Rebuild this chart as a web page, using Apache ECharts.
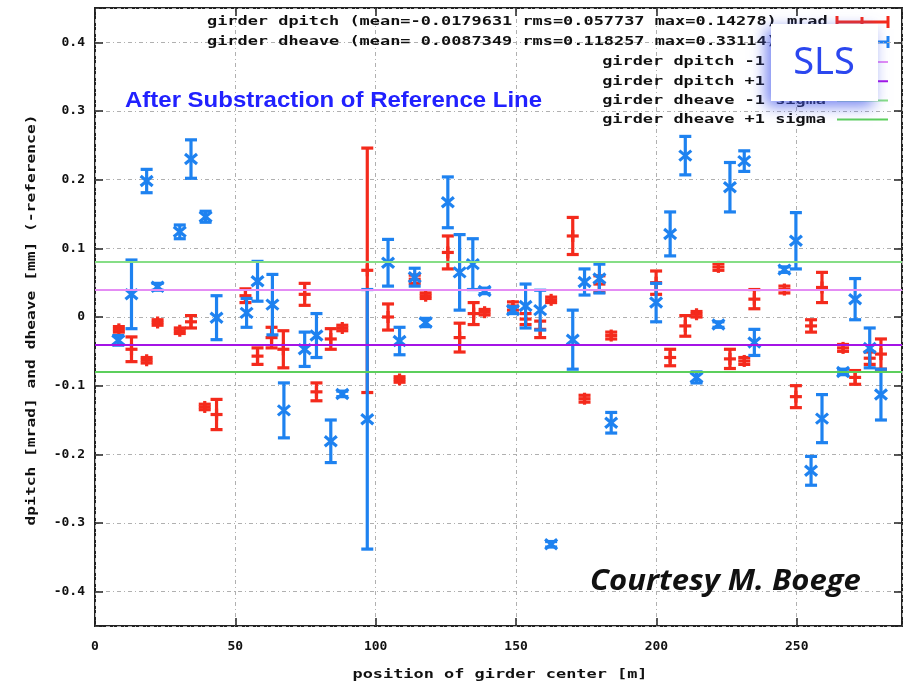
<!DOCTYPE html>
<html>
<head>
<meta charset="utf-8">
<script src="https://cdn.jsdelivr.net/npm/echarts@6/dist/echarts.min.js"></script>
<style>
html,body{margin:0;padding:0;background:#fff;}
#main{width:908px;height:687px;}
</style>
</head>
<body>
<div id="main"></div>
<script>
// ---- data ----
const pitchX = [8.5, 13.0, 18.4, 22.3, 30.2, 34.2, 39.1, 43.3, 53.6, 57.9, 62.9, 67.1, 74.7, 78.9, 84.0, 88.1, 97.0, 104.4, 108.5, 113.9, 117.8, 125.7, 129.9, 134.9, 138.8, 148.9, 153.4, 158.6, 162.5, 170.2, 174.4, 179.7, 183.9, 199.9, 204.9, 210.3, 214.3, 222.1, 226.2, 231.3, 234.9, 245.6, 249.7, 255.1, 259.0, 266.5, 270.8, 276.0, 280.0];
const pitchY = [-0.018, -0.047, -0.063, -0.008, -0.020, -0.007, -0.131, -0.142, 0.031, -0.057, -0.030, -0.047, 0.033, -0.109, -0.032, -0.016, 0.068, 0.000, -0.091, 0.055, 0.031, 0.094, -0.030, 0.005, 0.007, 0.016, -0.003, -0.018, 0.025, 0.118, -0.119, 0.048, -0.027, 0.050, -0.059, -0.013, 0.004, 0.073, -0.061, -0.064, 0.026, 0.040, -0.116, -0.013, 0.043, -0.045, -0.088, -0.060, -0.054];
const pitchErr = [0.004, 0.018, 0.004, 0.004, 0.004, 0.009, 0.004, 0.022, 0.010, 0.012, 0.015, 0.027, 0.016, 0.013, 0.015, 0.004, 0.178, 0.019, 0.004, 0.006, 0.004, 0.024, 0.021, 0.016, 0.004, 0.006, 0.008, 0.012, 0.004, 0.027, 0.005, 0.012, 0.005, 0.017, 0.012, 0.015, 0.004, 0.005, 0.014, 0.005, 0.014, 0.005, 0.016, 0.009, 0.022, 0.005, 0.010, 0.009, 0.022];

const heaveX = [8.3, 13.0, 18.4, 22.3, 30.2, 34.2, 39.4, 43.3, 54.0, 57.9, 63.2, 67.3, 74.7, 78.9, 84.0, 88.1, 97.0, 104.4, 108.5, 113.9, 117.8, 125.7, 129.9, 134.6, 138.8, 148.9, 153.4, 158.6, 162.5, 170.2, 174.4, 179.7, 183.9, 199.9, 204.9, 210.3, 214.3, 222.1, 226.2, 231.3, 234.9, 245.6, 249.7, 255.1, 259.0, 266.5, 270.8, 276.0, 280.0];
const heaveY = [-0.034, 0.033, 0.198, 0.044, 0.124, 0.230, 0.146, -0.001, 0.006, 0.052, 0.018, -0.136, -0.047, -0.027, -0.181, -0.112, -0.149, 0.079, -0.035, 0.058, -0.008, 0.167, 0.065, 0.077, 0.038, 0.010, 0.016, 0.010, -0.331, -0.033, 0.051, 0.056, -0.154, 0.021, 0.121, 0.235, -0.088, -0.011, 0.189, 0.227, -0.037, 0.069, 0.111, -0.224, -0.148, -0.080, 0.026, -0.045, -0.113];
const heaveErr = [0.007, 0.050, 0.017, 0.005, 0.010, 0.028, 0.008, 0.032, 0.021, 0.029, 0.044, 0.040, 0.025, 0.032, 0.031, 0.004, 0.189, 0.034, 0.020, 0.013, 0.006, 0.037, 0.055, 0.037, 0.004, 0.005, 0.032, 0.029, 0.004, 0.043, 0.019, 0.021, 0.015, 0.028, 0.032, 0.028, 0.008, 0.004, 0.036, 0.015, 0.019, 0.004, 0.041, 0.021, 0.035, 0.004, 0.030, 0.029, 0.037];

const sigmaValues = [0.044, -0.040, 0.084, -0.084];
const sigmaLabels = ['girder dpitch -1 sigma', 'girder dpitch +1 sigma', 'girder dheave -1 sigma', 'girder dheave +1 sigma'];
const seriesLabels = [
  'girder dpitch (mean=-0.0179631 rms=0.057737 max=0.14278) mrad',
  'girder dheave (mean= 0.0087349 rms=0.118257 max=0.33114) mm'
];
const titleText = 'After Substraction of Reference Line';
const courtesyText = 'Courtesy M. Boege';
const xAxisTitle = 'position of girder center [m]';
const yAxisTitle = 'dpitch [mrad] and dheave [mm] (-reference)';
const xMin = 0, xMax = 287.5, xStep = 50;
const yMin = -0.45, yMax = 0.45, yStep = 0.1;

// ---- styles ----
const RED = '#f42a1c';
const BLUE = '#1e82f0';
const sigmaColors = ['#e48cf4', '#a414e6', '#86de86', '#5ccf5c'];
const MONO = '"DejaVu Sans Mono"';

function errRender(color, marker) {
  return function (params, api) {
    const x = api.value(0), y = api.value(1), e = api.value(2);
    const c = api.coord([x, y]);
    const t = api.coord([x, y + e]);
    const b = api.coord([x, y - e]);
    const cw = 6, lw = 3.2, ms = 6;
    const st = {stroke: color, lineWidth: lw};
    const ch = [
      {type: 'line', shape: {x1: c[0], y1: t[1], x2: c[0], y2: b[1]}, style: st},
      {type: 'line', shape: {x1: c[0] - cw, y1: t[1], x2: c[0] + cw, y2: t[1]}, style: st},
      {type: 'line', shape: {x1: c[0] - cw, y1: b[1], x2: c[0] + cw, y2: b[1]}, style: st}
    ];
    if (marker === 'plus') {
      ch.push({type: 'line', shape: {x1: c[0] - ms, y1: c[1], x2: c[0] + ms, y2: c[1]}, style: st});
      ch.push({type: 'line', shape: {x1: c[0], y1: c[1] - ms, x2: c[0], y2: c[1] + ms}, style: st});
    } else {
      ch.push({type: 'line', shape: {x1: c[0] - ms, y1: c[1] - ms + 1, x2: c[0] + ms, y2: c[1] + ms - 1}, style: st});
      ch.push({type: 'line', shape: {x1: c[0] - ms, y1: c[1] + ms - 1, x2: c[0] + ms, y2: c[1] - ms + 1}, style: st});
    }
    return {type: 'group', children: ch};
  };
}

const pitchData = pitchX.map((x, i) => [x, pitchY[i], pitchErr[i]]);
const heaveData = heaveX.map((x, i) => [x, heaveY[i], heaveErr[i]]);

const gridLine = {show: true, lineStyle: {color: '#b0b0b0', width: 1, type: [4, 3, 1, 3]}};
const tickStyle = {show: true, inside: true, length: 8, lineStyle: {color: '#222', width: 1.5}};

function xFmt(v) {
  const k = v / xStep;
  return Math.abs(k - Math.round(k)) < 1e-6 ? String(Math.round(v)) : '';
}
function yFmt(v) {
  const k = v / yStep;
  if (Math.abs(k - Math.round(k)) > 1e-6) return '';
  const r = Math.round(k) / 10;
  return r === 0 ? '0' : r.toFixed(1);
}

// legend / annotation graphics
const SX = 1.3;
const graphics = [];
graphics.push({type: 'text', x: 125, y: 101, scaleX: 1.09, z: 50,
  style: {text: titleText, fontFamily: '"Liberation Sans"', fontWeight: 'bold', fontSize: 22, fill: '#2121ff', verticalAlign: 'middle'}});
seriesLabels.forEach((s, i) => {
  graphics.push({type: 'text', x: 207, y: 22 + i * 20, scaleX: SX, z: 50,
    style: {text: s, fontFamily: MONO, fontWeight: 'bold', fontSize: 13, fill: '#111', verticalAlign: 'middle'}});
});
sigmaLabels.forEach((s, i) => {
  graphics.push({type: 'text', x: 826, y: 62 + i * 19.2, scaleX: SX, z: 50,
    style: {text: s, fontFamily: MONO, fontWeight: 'bold', fontSize: 13, fill: '#111', align: 'right', verticalAlign: 'middle'}});
  graphics.push({type: 'line', z: 50, shape: {x1: 837, y1: 62 + i * 19.2, x2: 888, y2: 62 + i * 19.2},
    style: {stroke: sigmaColors[i], lineWidth: 2}});
});
[RED, BLUE].forEach((col, i) => {
  const yy = 22 + i * 20;
  graphics.push({type: 'group', z: 50, children: [
    {type: 'line', shape: {x1: 837, y1: yy, x2: 888, y2: yy}, style: {stroke: col, lineWidth: 3}},
    {type: 'line', shape: {x1: 837, y1: yy - 6, x2: 837, y2: yy + 6}, style: {stroke: col, lineWidth: 3}},
    {type: 'line', shape: {x1: 888, y1: yy - 6, x2: 888, y2: yy + 6}, style: {stroke: col, lineWidth: 3}},
    {type: 'line', shape: {x1: 862, y1: yy - 5, x2: 862, y2: yy + 5}, style: {stroke: col, lineWidth: 3}}
  ]});
});
// axis titles
graphics.push({type: 'text', x: 500, y: 675, scaleX: SX, z: 50,
  style: {text: xAxisTitle, fontFamily: MONO, fontWeight: 'bold', fontSize: 13, fill: '#111', align: 'center', verticalAlign: 'middle'}});
graphics.push({type: 'text', x: 32, y: 320, rotation: Math.PI / 2, scaleX: 1.25, z: 50,
  style: {text: yAxisTitle, fontFamily: MONO, fontWeight: 'bold', fontSize: 13, fill: '#111', align: 'center', verticalAlign: 'middle'}});
// SLS badge
graphics.push({type: 'rect', z: 200, shape: {x: 771, y: 24, width: 107, height: 77},
  style: {fill: '#ffffff', shadowBlur: 14, shadowColor: 'rgba(70,90,235,0.75)', shadowOffsetX: -5, shadowOffsetY: 5}});
graphics.push({type: 'text', z: 201, x: 824, y: 63,
  style: {text: 'SLS', fontFamily: '"Noto Sans"', fontSize: 38, fill: '#2b47ef', align: 'center', verticalAlign: 'middle'}});
// courtesy
graphics.push({type: 'text', z: 60, x: 590, y: 582, scaleX: 1.07,
  style: {text: courtesyText, fontFamily: '"Open Sans"', fontWeight: 'bold', fontStyle: 'italic', fontSize: 29, fill: '#111', verticalAlign: 'middle'}});

const chart = echarts.init(document.getElementById('main'));
chart.setOption({
  animation: false,
  backgroundColor: '#ffffff',
  grid: {left: 95, right: 6, top: 8, bottom: 61, show: true, borderColor: '#222', borderWidth: 2, backgroundColor: 'transparent'},
  xAxis: [
    {type: 'value', min: xMin, max: xMax, interval: xStep, position: 'bottom',
      axisLine: {show: false, onZero: false}, axisTick: tickStyle, splitLine: gridLine,
      axisLabel: {formatter: xFmt, margin: 14, fontFamily: MONO, fontWeight: 'bold', fontSize: 13, color: '#111'}},
    {type: 'value', min: xMin, max: xMax, interval: xStep, position: 'top',
      axisLine: {show: false, onZero: false}, axisTick: tickStyle, splitLine: {show: false}, axisLabel: {show: false}}
  ],
  yAxis: [
    {type: 'value', min: yMin, max: yMax, splitNumber: 9, position: 'left',
      axisLine: {show: false, onZero: false}, axisTick: tickStyle, splitLine: gridLine,
      axisLabel: {formatter: yFmt, margin: 10, fontFamily: MONO, fontWeight: 'bold', fontSize: 13, color: '#111'}},
    {type: 'value', min: yMin, max: yMax, splitNumber: 9, position: 'right',
      axisLine: {show: false, onZero: false}, axisTick: tickStyle, splitLine: {show: false}, axisLabel: {show: false}}
  ],
  series: [
    {type: 'custom', name: 'dpitch', renderItem: errRender(RED, 'plus'), data: pitchData, encode: {x: 0, y: 1}, z: 3, clip: true},
    {type: 'custom', name: 'dheave', renderItem: errRender(BLUE, 'cross'), data: heaveData, encode: {x: 0, y: 1}, z: 4, clip: true},
    {type: 'line', name: 'sigma', data: [], z: 5, silent: true,
      markLine: {silent: true, symbol: ['none', 'none'], label: {show: false}, animation: false,
        data: sigmaValues.map((v, i) => ({yAxis: v, lineStyle: {color: sigmaColors[i], width: 2, type: 'solid'}}))}}
  ],
  graphic: graphics
});
</script>
</body>
</html>
